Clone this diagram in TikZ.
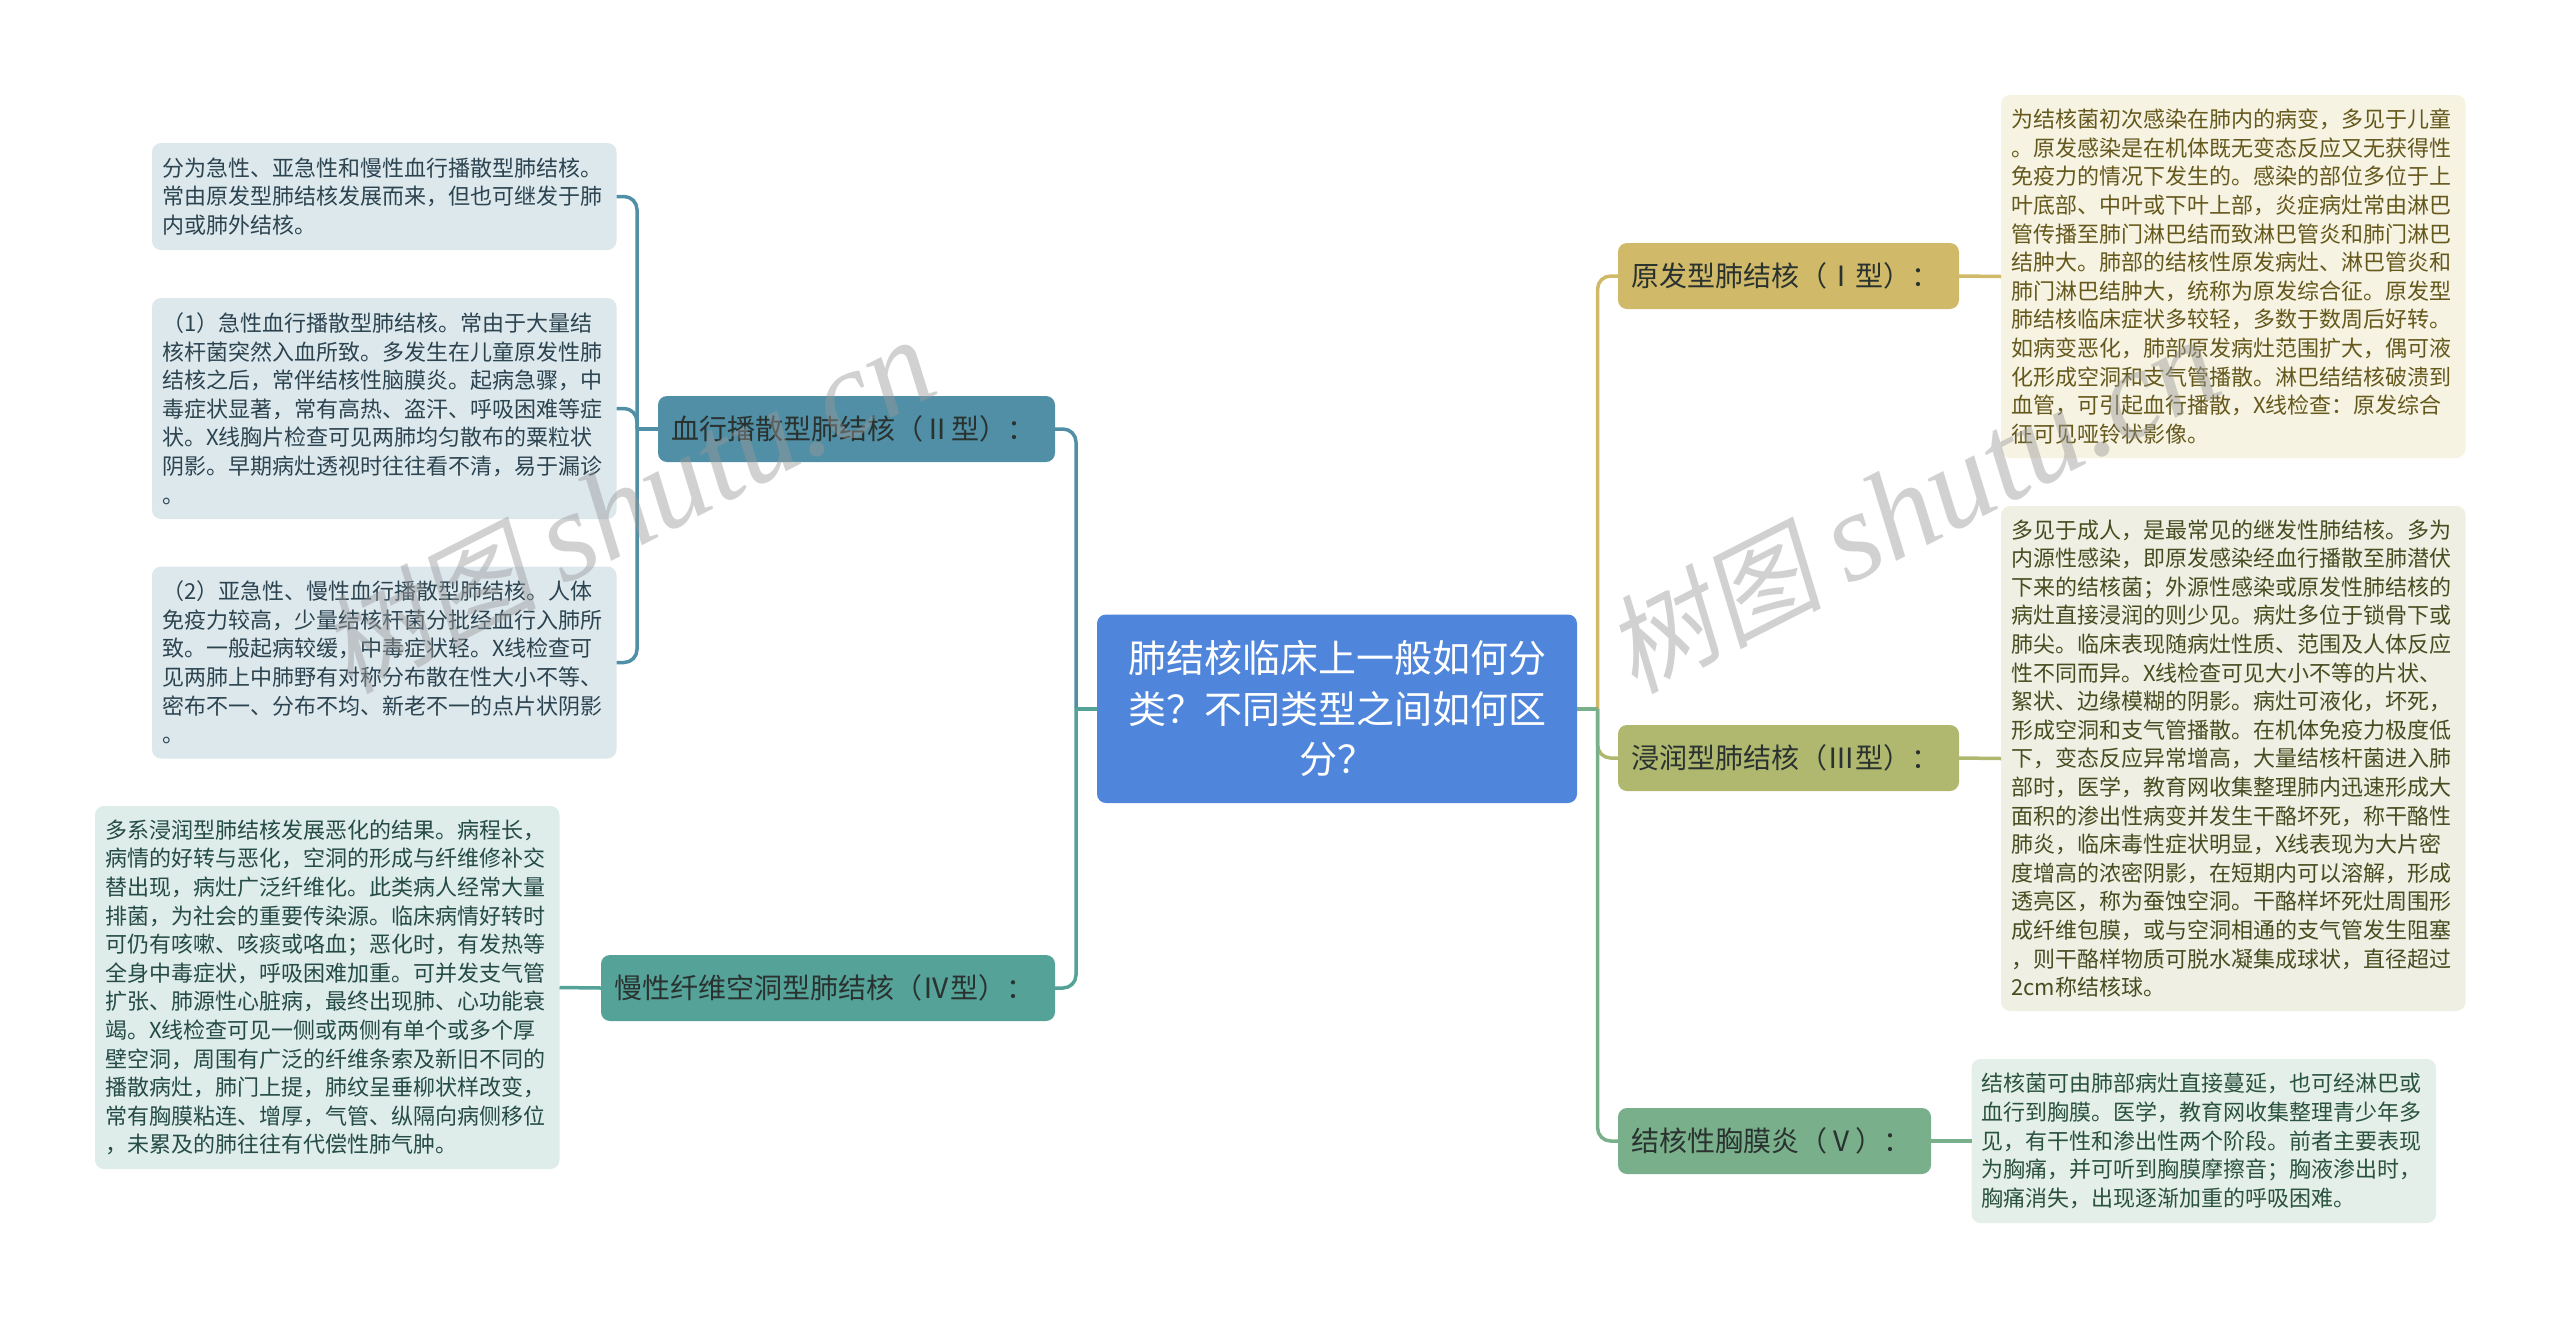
\documentclass[tikz,border=0pt]{standalone}
\usepackage{fontspec}
\setmainfont{Noto Sans CJK SC}
\newfontfamily\wmcjk[FakeSlant=0.18]{Noto Sans CJK SC}
\newfontfamily\wmlat{Liberation Serif}
\newcommand{\marktext}{\fontsize{108}{130}\wmcjk 树图 \fontsize{127}{130}\wmlat\itshape shutu.cn}
\definecolor{cRoot}{HTML}{4F86DB}
\definecolor{cTwo}{HTML}{508FA5}
\definecolor{cFour}{HTML}{54A298}
\definecolor{cOne}{HTML}{D0B968}
\definecolor{cThree}{HTML}{AFB86E}
\definecolor{cFive}{HTML}{79B08B}
\definecolor{lTwo}{HTML}{DDE8ED}
\definecolor{lFour}{HTML}{DEECEA}
\definecolor{lOne}{HTML}{F6F3E2}
\definecolor{lThree}{HTML}{EFF0E3}
\definecolor{lFive}{HTML}{E3EFE8}
\definecolor{tTwo}{HTML}{2C4450}
\definecolor{tFour}{HTML}{254B46}
\definecolor{tOne}{HTML}{65581C}
\definecolor{tThree}{HTML}{474D20}
\definecolor{tFive}{HTML}{2B5240}
\definecolor{tBranch}{HTML}{2A3230}
\tikzset{
  boxbase/.style={rectangle,rounded corners=9,anchor=north west,inner ysep=0,outer sep=0},
  rootbox/.style={boxbase,fill=cRoot,text=white,align=center,inner xsep=20,
    font=\fontsize{38}{50.5}\selectfont},
  branchbox/.style={boxbase,text=tBranch,align=left,inner xsep=13,
    font=\fontsize{28}{34}\selectfont},
  leafbox/.style={boxbase,align=left,inner xsep=10,text width=444,minimum width=464.5,
    font=\fontsize{22}{28.6}\selectfont},
  conn/.style={line width=3.5,rounded corners=13},
  mark text/.style={text=black!40,text opacity=0.45,rotate=27,anchor=base west,inner sep=0}
}
\begin{document}
\begin{tikzpicture}[x=1pt,y=-1pt]
\useasboundingbox (0,0) rectangle (2560,1318);
% central node
\node[rootbox,text width=440,minimum width=480,minimum height=188.5] (root) at (1097,614.5)
 {肺结核临床上一般如何分\\类？不同类型之间如何区\\分？};
% branches
\node[branchbox,fill=cTwo,text width=371,minimum width=397,minimum height=66] (two) at (658,396)
 {血行播散型肺结核（Ⅱ型）：};
\node[branchbox,fill=cFour,text width=428,minimum width=454,minimum height=66] (four) at (601,955)
 {慢性纤维空洞型肺结核（Ⅳ型）：};
\node[branchbox,fill=cOne,text width=315,minimum width=341,minimum height=66] (one) at (1618,243)
 {原发型肺结核（Ⅰ型）：};
\node[branchbox,fill=cThree,text width=315,minimum width=341,minimum height=66] (three) at (1618,725)
 {浸润型肺结核（Ⅲ型）：};
\node[branchbox,fill=cFive,text width=287,minimum width=313,minimum height=66] (five) at (1618,1108)
 {结核性胸膜炎（Ⅴ）：};
% leaves, left
\node[leafbox,fill=lTwo,text=tTwo,minimum height=107] (a) at (152,143)
 {分为急性、亚急性和慢性血行播散型肺结核。\\常由原发型肺结核发展而来，但也可继发于肺\\内或肺外结核。};
\node[leafbox,fill=lTwo,text=tTwo,minimum height=221] (b) at (152,298)
 {（1）急性血行播散型肺结核。常由于大量结\\核杆菌突然入血所致。多发生在儿童原发性肺\\结核之后，常伴结核性脑膜炎。起病急骤，中\\毒症状显著，常有高热、盗汗、呼吸困难等症\\状。X线胸片检查可见两肺均匀散布的粟粒状\\阴影。早期病灶透视时往往看不清，易于漏诊\\。};
\node[leafbox,fill=lTwo,text=tTwo,minimum height=192] (c) at (152,566.5)
 {（2）亚急性、慢性血行播散型肺结核。人体\\免疫力较高，少量结核杆菌分批经血行入肺所\\致。一般起病较缓，中毒症状轻。X线检查可\\见两肺上中肺野有对称分布散在性大小不等、\\密布不一、分布不均、新老不一的点片状阴影\\。};
\node[leafbox,fill=lFour,text=tFour,minimum height=363] (d) at (95,806)
 {多系浸润型肺结核发展恶化的结果。病程长，\\病情的好转与恶化，空洞的形成与纤维修补交\\替出现，病灶广泛纤维化。此类病人经常大量\\排菌，为社会的重要传染源。临床病情好转时\\可仍有咳嗽、咳痰或咯血；恶化时，有发热等\\全身中毒症状，呼吸困难加重。可并发支气管\\扩张、肺源性心脏病，最终出现肺、心功能衰\\竭。X线检查可见一侧或两侧有单个或多个厚\\壁空洞，周围有广泛的纤维条索及新旧不同的\\播散病灶，肺门上提，肺纹呈垂柳状样改变，\\常有胸膜粘连、增厚，气管、纵隔向病侧移位\\，未累及的肺往往有代偿性肺气肿。};
% leaves, right
\node[leafbox,fill=lOne,text=tOne,minimum height=363] (e) at (2001,95)
 {为结核菌初次感染在肺内的病变，多见于儿童\\。原发感染是在机体既无变态反应又无获得性\\免疫力的情况下发生的。感染的部位多位于上\\叶底部、中叶或下叶上部，炎症病灶常由淋巴\\管传播至肺门淋巴结而致淋巴管炎和肺门淋巴\\结肿大。肺部的结核性原发病灶、淋巴管炎和\\肺门淋巴结肿大，统称为原发综合征。原发型\\肺结核临床症状多较轻，多数于数周后好转。\\如病变恶化，肺部原发病灶范围扩大，偶可液\\化形成空洞和支气管播散。淋巴结结核破溃到\\血管，可引起血行播散，X线检查：原发综合\\征可见哑铃状影像。};
\node[leafbox,fill=lThree,text=tThree,minimum height=505] (f) at (2001,506)
 {多见于成人，是最常见的继发性肺结核。多为\\内源性感染，即原发感染经血行播散至肺潜伏\\下来的结核菌；外源性感染或原发性肺结核的\\病灶直接浸润的则少见。病灶多位于锁骨下或\\肺尖。临床表现随病灶性质、范围及人体反应\\性不同而异。X线检查可见大小不等的片状、\\絮状、边缘模糊的阴影。病灶可液化，坏死，\\形成空洞和支气管播散。在机体免疫力极度低\\下，变态反应异常增高，大量结核杆菌进入肺\\部时，医学，教育网收集整理肺内迅速形成大\\面积的渗出性病变并发生干酪坏死，称干酪性\\肺炎，临床毒性症状明显，X线表现为大片密\\度增高的浓密阴影，在短期内可以溶解，形成\\透亮区，称为蚕蚀空洞。干酪样坏死灶周围形\\成纤维包膜，或与空洞相通的支气管发生阻塞\\，则干酪样物质可脱水凝集成球状，直径超过\\2cm称结核球。};
\node[leafbox,fill=lFive,text=tFive,minimum height=164] (g) at (1971.5,1059)
 {结核菌可由肺部病灶直接蔓延，也可经淋巴或\\血行到胸膜。医学，教育网收集整理青少年多\\见，有干性和渗出性两个阶段。前者主要表现\\为胸痛，并可听到胸膜摩擦音；胸液渗出时，\\胸痛消失，出现逐渐加重的呼吸困难。};
% junctions
\coordinate (jl) at (1076,708.75);
\coordinate (jr) at (1597.6,708.75);
\coordinate (jb) at (637,429);
% connectors
\draw[conn,cTwo] (jl) |- (two.east);
\draw[conn,cFour] (jl) |- (four.east);
\draw[conn,cFour] (root.west) -- (jl);
\draw[conn,cOne] (jr) |- (one.west);
\draw[conn,cThree] (jr) |- (three.west);
\draw[conn,cFive] (jr) |- (five.west);
\draw[conn,cFive] (root.east) -- (jr);
\draw[conn,cTwo] (jb) |- (a.east);
\draw[conn,cTwo] (jb) |- (b.east);
\draw[conn,cTwo] (jb) |- (c.east);
\draw[conn,cTwo] (two.west) -- (jb);
\draw[conn,cFour] (four.west) -- (d.east);
\draw[conn,cOne] (one.east) -- (e.west);
\draw[conn,cThree] (three.east) -- (f.west);
\draw[conn,cFive] (five.east) -- (g.west);
% watermarks
\node[mark text] (wmleft) at (349,695) {\marktext};
\node[mark text] (wmright) at (1634,695) {\marktext};
\end{tikzpicture}
\end{document}
